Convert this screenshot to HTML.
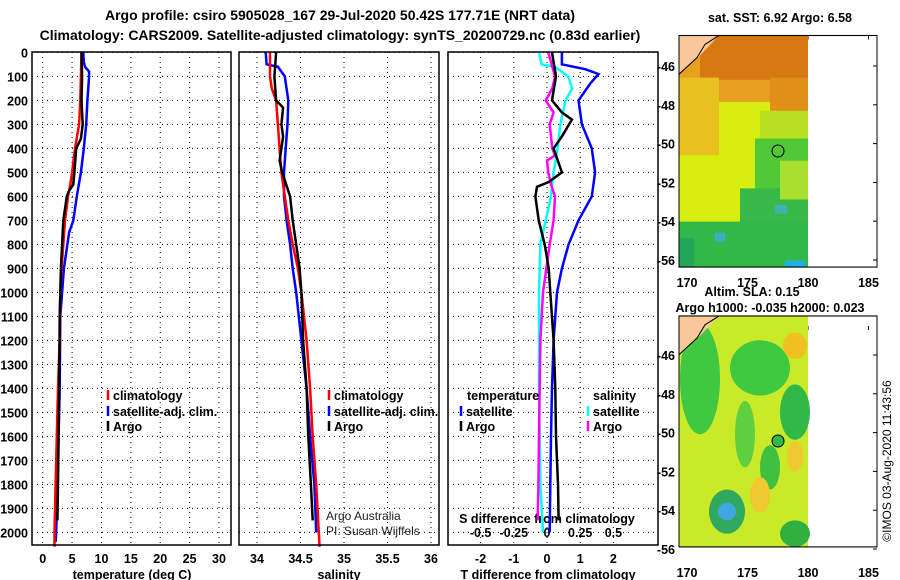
<!DOCTYPE html>
<html><head><meta charset="utf-8"><style>
body{margin:0;background:#fff;}
svg{display:block;font-family:"Liberation Sans",sans-serif;}
.b{font-weight:bold;font-size:12.5px;}
.t{font-weight:bold;font-size:14px;}
</style></head><body>
<svg id="s" width="900" height="580" viewBox="0 0 900 580">
<text class="t" x="340" y="20" text-anchor="middle">Argo profile: csiro 5905028_167 29-Jul-2020 50.42S 177.71E (NRT data)</text>
<text class="t" x="340" y="40" text-anchor="middle">Climatology: CARS2009. Satellite-adjusted climatology: synTS_20200729.nc (0.83d earlier)</text>
<g id="g"></g>
<text class="b" x="780" y="22" text-anchor="middle">sat. SST: 6.92 Argo: 6.58</text>
<g transform="translate(0,0.04) scale(1,1.108)">
<rect x="679" y="32" width="129" height="209" fill="#d8ee10"/>
<rect x="679" y="32" width="129" height="60" fill="#e8a020"/>
<rect x="700" y="32" width="108" height="40" fill="#d87810"/>
<rect x="770" y="70" width="38" height="30" fill="#e09018"/>
<rect x="679" y="70" width="40" height="70" fill="#e8c020"/>
<rect x="760" y="100" width="48" height="40" fill="#b8e020"/>
<rect x="755" y="125" width="53" height="60" fill="#50c838"/>
<rect x="740" y="170" width="68" height="71" fill="#38b848"/>
<rect x="679" y="200" width="129" height="41" fill="#30b848"/>
<rect x="679" y="215" width="15" height="26" fill="#20a858"/>
<rect x="715" y="210" width="10" height="8" fill="#40a8c8"/>
<rect x="775" y="185" width="12" height="8" fill="#40b0b0"/>
<rect x="785" y="235" width="20" height="6" fill="#20b0e0"/>
<rect x="780" y="145" width="28" height="35" fill="#a8e030"/>
<polygon points="679,32 719,32 700,50 679,67" fill="#f8c898"/>
<polyline points="719,32 705,40 697,52 685,62 679,67" fill="none" stroke="#000" stroke-width="1"/>
<rect x="679" y="32" width="198" height="209" fill="none" stroke="#000" stroke-width="1"/>
</g>
<circle cx="778" cy="151" r="6" fill="none" stroke="#000"/>
<text class="b" x="752" y="296" text-anchor="middle">Altim. SLA: 0.15</text>
<text class="b" x="770" y="312" text-anchor="middle">Argo h1000: -0.035 h2000: 0.023</text>
<g transform="translate(0,-7.8) scale(1,1.105)">
<rect x="679" y="293" width="129" height="209" fill="#c8ea28"/>
<ellipse cx="700" cy="350" rx="20" ry="50" fill="#40c840"/>
<ellipse cx="760" cy="340" rx="30" ry="25" fill="#40c840"/>
<ellipse cx="795" cy="380" rx="15" ry="25" fill="#30b848"/>
<ellipse cx="795" cy="320" rx="12" ry="12" fill="#f0c020"/>
<ellipse cx="745" cy="400" rx="10" ry="30" fill="#60d040"/>
<ellipse cx="770" cy="430" rx="10" ry="20" fill="#40c040"/>
<ellipse cx="795" cy="420" rx="8" ry="14" fill="#f0c830"/>
<ellipse cx="760" cy="455" rx="10" ry="16" fill="#f0c830"/>
<ellipse cx="727" cy="470" rx="18" ry="20" fill="#30a860"/>
<ellipse cx="727" cy="470" rx="9" ry="8" fill="#40a8e0"/>
<ellipse cx="795" cy="490" rx="15" ry="12" fill="#30b040"/>
<polygon points="679,293 719,293 700,311 679,328" fill="#f8c898"/>
<polyline points="719,293 705,301 697,313 685,323 679,328" fill="none" stroke="#000" stroke-width="1"/>
<rect x="679" y="293" width="198" height="209" fill="none" stroke="#000" stroke-width="1"/>
</g>
<circle cx="778" cy="441" r="6" fill="#30b848" stroke="#000"/>
<text x="0" y="0" font-size="12" transform="translate(891,461) rotate(-90)" text-anchor="middle">©IMOS 03-Aug-2020 11:43:56</text>
</svg>
<script>
const depthTicks=[0,100,200,300,400,500,600,700,800,900,1000,1100,1200,1300,1400,1500,1600,1700,1800,1900,2000];
const tempTicks=[0,5,10,15,20,25,30];
const salTicks=[34,34.5,35,35.5,36];
const tdTicks=[-2,-1,0,1,2];
const sdTicks=[-0.5,-0.25,0,0.25,0.5];
const latTicks=[-46,-48,-50,-52,-54,-56];
const lonTicks=[170,175,180,185];
const tClimD=[0,100,200,300,400,500,550,600,700,800,900,1000,1200,1400,1600,1800,2000,2060];
const tClimV=[6.6,6.5,6.4,6.2,5.5,5.0,4.7,4.3,3.8,3.5,3.2,3.0,2.9,2.6,2.4,2.2,2.0,2.0];
const tArgoD=[0,100,200,300,360,400,500,550,580,600,700,800,900,1000,1100,1400,1600,1800,1950];
const tArgoV=[6.6,6.7,6.6,6.8,6.5,5.7,5.4,5.2,4.4,4.1,3.5,3.3,3.1,3.0,2.9,2.8,2.7,2.6,2.5];
const tSatD=[0,40,60,80,100,200,300,400,500,600,700,750,800,900,1000,1100,1400,1600,1800,2000,2040];
const tSatV=[6.9,7.0,7.2,7.9,7.9,7.6,7.4,7.0,6.5,5.8,5.2,4.5,4.2,3.6,3.3,3.0,2.9,2.7,2.5,2.3,2.2];
const sClimD=[0,100,150,200,300,400,500,600,700,800,900,1000,1200,1400,1600,1800,2000,2060];
const sClimV=[34.15,34.15,34.17,34.22,34.24,34.26,34.28,34.32,34.36,34.41,34.47,34.51,34.57,34.61,34.64,34.68,34.71,34.72];
const sArgoD=[0,50,100,200,230,300,350,400,450,500,600,700,800,900,1000,1200,1400,1600,1800,1950];
const sArgoV=[34.22,34.21,34.2,34.22,34.3,34.28,34.3,34.28,34.26,34.29,34.38,34.41,34.45,34.49,34.51,34.53,34.57,34.59,34.62,34.64];
const sSatD=[0,50,60,100,200,300,400,500,600,700,800,900,1000,1200,1400,1600,1800,2000];
const sSatV=[34.1,34.11,34.24,34.32,34.36,34.35,34.33,34.31,34.31,34.34,34.38,34.41,34.45,34.51,34.57,34.61,34.66,34.68];
const dTArgoD=[0,100,200,250,280,350,400,500,540,560,600,700,800,900,1000,1200,1400,1600,1800,1950];
const dTArgoV=[0.15,0.27,0.15,0.45,0.75,0.45,0.2,0.45,0.05,-0.3,-0.35,-0.25,-0.07,0.05,0.1,0.2,0.25,0.27,0.33,0.35];
const dTSatD=[0,50,70,90,130,200,300,400,500,600,700,800,900,1000,1100,1200,1400,1600,1800,2000];
const dTSatV=[0.45,0.45,1.15,1.55,1.3,0.95,1.05,1.35,1.45,1.35,0.95,0.65,0.45,0.3,0.25,0.2,0.15,0.12,0.1,0.08];
const dSSatD=[0,50,60,100,150,200,300,400,500,600,700,800,1000,1400,1800,2000];
const dSSatV=[-0.06,-0.04,0.06,0.16,0.19,0.14,0.1,0.08,0.05,0.03,-0.01,-0.05,-0.06,-0.06,-0.05,-0.03];
const dSArgoD=[0,100,150,200,250,300,400,430,450,500,550,600,700,800,1000,1200,1400,1600,1800,1950];
const dSArgoV=[0.01,0.06,0.04,-0.01,0.05,0.02,0.04,0.06,0,0.01,0.03,0.06,0.05,0.02,-0.03,-0.05,-0.055,-0.06,-0.065,-0.07];

const NS='http://www.w3.org/2000/svg';
const G=document.getElementById('g');
function el(t,a,txt){const e=document.createElementNS(NS,t);for(const k in a)e.setAttribute(k,a[k]);if(txt!==undefined)e.textContent=txt;G.appendChild(e);return e;}
const yD=d=>52.4+d*0.24;
const pTop=52,pBot=545;
const panels=[
 {x0:32,x1:231,f:v=>42.7+v*5.877,name:'temperature'},
 {x0:239,x1:439,f:v=>257+(v-34)*87,name:'salinity'},
 {x0:448,x1:658,f:v=>547+v*33.2,name:'tdiff'}];
const fs=v=>547+v*132.8;
panels.forEach(p=>{
 depthTicks.forEach(d=>{
  const l=el('line',{x1:p.x0,x2:p.x1,y1:yD(d),y2:yD(d),stroke:'#000','stroke-dasharray':'1,4','stroke-width':1});
  
  
 });
});
depthTicks.forEach(d=>{
 const t=el('text',{x:28,y:yD(d)+5,'text-anchor':'end',class:'b'},String(d));
 
 
});
function vticks(p,ticks,y,nm){ticks.forEach(v=>{
 const l=el('line',{x1:p.f(v),x2:p.f(v),y1:pTop,y2:pBot,stroke:'#000','stroke-dasharray':'1,4'});
 
 
 const t=el('text',{x:p.f(v),y:y,'text-anchor':'middle',class:'b'},String(v));
 
 
});}
vticks(panels[0],tempTicks,563,'temp');
vticks(panels[1],salTicks,563,'sal');
vticks(panels[2],tdTicks,563,'tdiff');
sdTicks.forEach(v=>{
 const t=el('text',{x:fs(v),y:537,'text-anchor':'middle',class:'b'},String(v));
 
 
});
[['temperature (deg C)',132],['salinity',339],['T difference from climatology',548]].forEach(a=>{
 const t=el('text',{x:a[1],y:579,'text-anchor':'middle',class:'b'},a[0]);
 
 
});
const st=el('text',{x:547,y:523,'text-anchor':'middle',class:'b'},'S difference from climatology');


function line(D,V,f,c,nm){const pts=D.map((d,i)=>f(V[i]).toFixed(1)+','+yD(d).toFixed(1)).join(' ');
 const l=el('polyline',{points:pts,fill:'none',stroke:c,'stroke-width':2.5});
 
 }
const P=panels;
line(tSatD,tSatV,P[0].f,'#0000ff','temp-satellite-line');
line(tClimD,tClimV,P[0].f,'#ff0000','temp-climatology-line');
line(tArgoD,tArgoV,P[0].f,'#000','temp-argo-line');
line(sSatD,sSatV,P[1].f,'#0000ff','sal-satellite-line');
line(sClimD,sClimV,P[1].f,'#ff0000','sal-climatology-line');
line(sArgoD,sArgoV,P[1].f,'#000','sal-argo-line');
line(dSSatD,dSSatV,fs,'#00ffff','sdiff-satellite-line');
line(dTSatD,dTSatV,P[2].f,'#0000ff','tdiff-satellite-line');
line(dSArgoD,dSArgoV,fs,'#ff00ff','sdiff-argo-line');
line(dTArgoD,dTArgoV,P[2].f,'#000','tdiff-argo-line');
panels.forEach(p=>{const r=el('rect',{x:p.x0,y:pTop,width:p.x1-p.x0,height:pBot-pTop,fill:'none',stroke:'#000','stroke-width':1.5});
 
 });
function legend(x,y,c,txt){const l=el('line',{x1:x,x2:x,y1:y-10,y2:y,stroke:c,'stroke-width':2.5});
 
 
 const t=el('text',{x:x+5,y:y,class:'b'},txt);
 
 }
legend(108,400,'#ff0000','climatology');legend(108,416,'#0000ff','satellite-adj. clim.');legend(108,431,'#000','Argo');
legend(329,400,'#ff0000','climatology');legend(329,416,'#0000ff','satellite-adj. clim.');legend(329,431,'#000','Argo');
const tt=el('text',{x:467,y:400,class:'b'},'temperature');
const sh=el('text',{x:593,y:400,class:'b'},'salinity');
legend(461,416,'#0000ff','satellite');legend(461,431,'#000','Argo');
legend(588,416,'#00ffff','satellite');legend(588,431,'#ff00ff','Argo');
const a1=el('text',{x:326,y:520,'font-size':12,fill:'#222'},'Argo Australia');
const a2=el('text',{x:326,y:535,'font-size':12,fill:'#222'},'PI: Susan Wijffels');
[[35.5,267,66],[326,557,355]].forEach(m=>{
 latTicks.forEach(v=>{const y=m[2]+(-46-v)*19.4;
  const t=el('text',{x:675,y:y+5,'text-anchor':'end',class:'b'},String(v));
  
  
  el('line',{x1:873,x2:877,y1:y,y2:y,stroke:'#000'});});
 lonTicks.forEach(v=>{const x=687+(v-170)*12.1;
  const t=el('text',{x:x,y:m[1]+20,'text-anchor':'middle',class:'b'},String(v));
  
  
  el('line',{x1:x,x2:x,y1:m[0],y2:m[0]+4,stroke:'#000'});});
});
</script>
</body></html>
